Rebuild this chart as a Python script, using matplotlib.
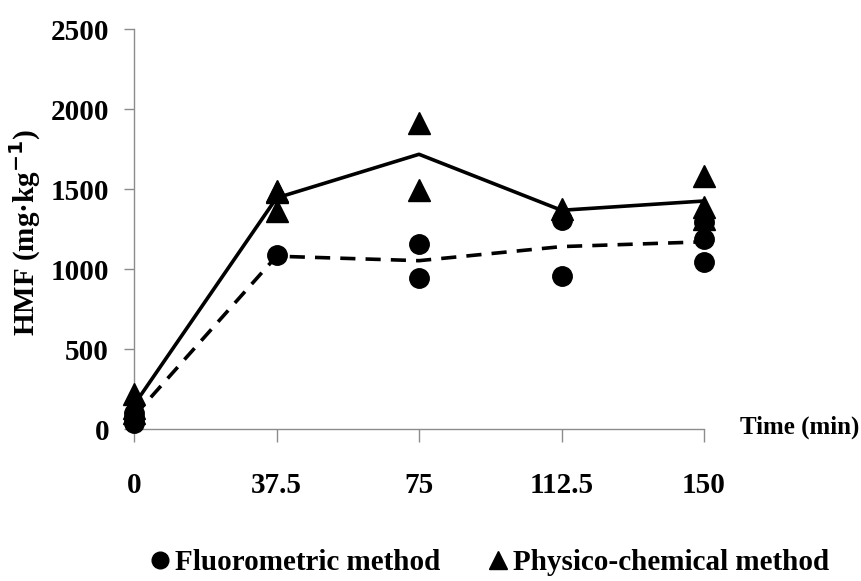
import matplotlib.pyplot as plt
from matplotlib.lines import Line2D

plt.rcParams['font.family'] = ['Liberation Serif', 'DejaVu Serif']
plt.rcParams['font.weight'] = 'bold'

# sampling times (min)
times = [0, 37.5, 75, 112.5, 150]
tick_labels = ['0', '37.5', '75', '112.5', '150']

# individual measurements
fluor_t = [0, 0, 0, 37.5, 75, 75, 112.5, 112.5, 150, 150, 150]
fluor_v = [100, 70, 40, 1090, 1157, 941, 1304, 958, 1292, 1189, 1043]
phys_t = [0, 0, 0, 37.5, 37.5, 37.5, 75, 75, 112.5, 150, 150, 150]
phys_v = [220, 130, 100, 1490, 1480, 1365, 1910, 1495, 1375, 1583, 1386, 1315]

# mean lines
fluor_mean = [80, 1080, 1052, 1140, 1170]
phys_mean = [150, 1444, 1717, 1367, 1425]

fig = plt.figure(figsize=(8.61, 5.81), dpi=100)
ax = fig.add_axes([134/861, 152/581, 570/861, 400/581])

ax.plot(times, phys_mean, color='black', lw=2.6, zorder=2, clip_on=False)
ax.plot(times, fluor_mean, color='black', lw=2.6, dashes=(4.2, 2.8), zorder=2, clip_on=False)
ax.plot(fluor_t, fluor_v, 'o', color='black', ms=14, zorder=3, clip_on=False)
ax.plot(phys_t, phys_v, '^', color='black', ms=15.5, zorder=4, clip_on=False)

ax.set_xlim(0, 150)
ax.set_ylim(0, 2500)
ax.set_xticks(times)
ax.set_xticklabels(tick_labels)
ax.set_yticks([0, 500, 1000, 1500, 2000, 2500])

for s in ['top', 'right']:
    ax.spines[s].set_visible(False)
for s in ['left', 'bottom']:
    ax.spines[s].set_color('#8c8c8c')
    ax.spines[s].set_linewidth(1.0)

ax.tick_params(axis='x', colors='#8c8c8c', length=9, width=1, pad=22,
               labelsize=21, labelcolor='black')
ax.tick_params(axis='y', colors='#8c8c8c', length=7, width=1, pad=11,
               labelsize=21, labelcolor='black')
for lab in ax.get_xticklabels() + ax.get_yticklabels():
    lab.set_fontweight('bold')

fig.text(25/861, 1 - 232/581, 'HMF (mg·kg$^{\\mathbf{-1}}$)', fontsize=21,
         fontweight='bold', rotation=90, ha='center', va='center')
fig.text(800/861, 1 - 427/581, 'Time (min)', fontsize=18, fontweight='bold',
         ha='center', va='center')

handles = [Line2D([], [], marker='o', color='black', ls='none', ms=12),
           Line2D([], [], marker='^', color='black', ls='none', ms=13)]
fig.legend(handles, ['Fluorometric method', 'Physico-chemical method'],
           loc='center', bbox_to_anchor=(490/861, 18/581), ncol=2,
           frameon=False, handlelength=0.6, handletextpad=0.2,
           columnspacing=1.7, prop={'weight': 'bold', 'size': 21})

fig.savefig('out.png', dpi=100)
